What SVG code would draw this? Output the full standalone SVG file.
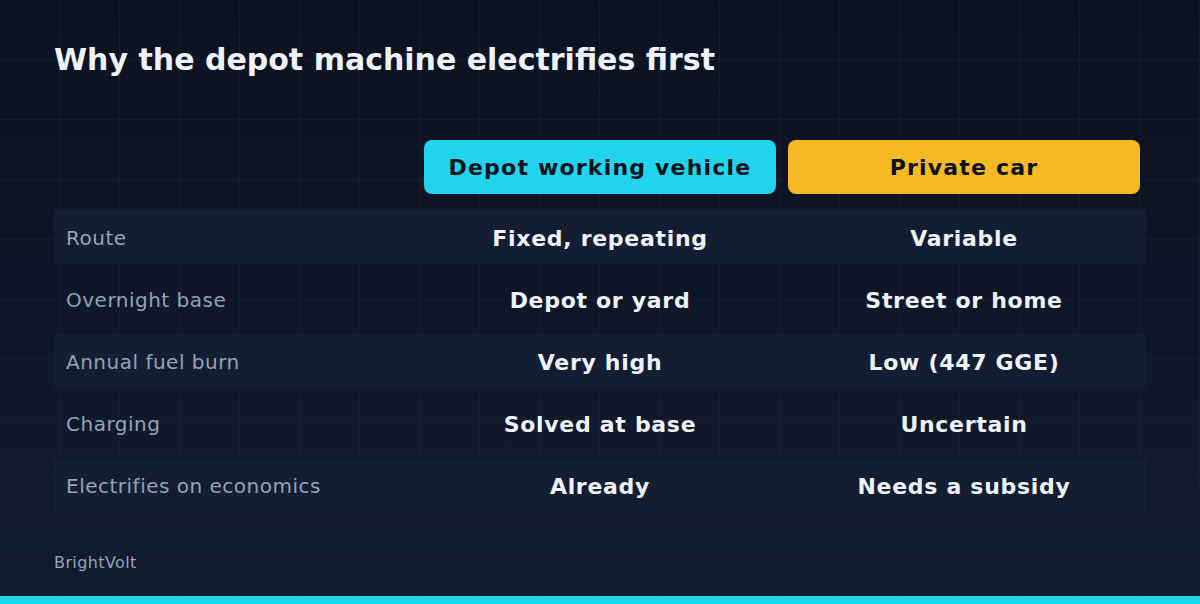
<svg xmlns="http://www.w3.org/2000/svg" width="1200" height="604" viewBox="0 0 1200 604">
<defs>
<linearGradient id="bg" x1="0" y1="0" x2="0" y2="1"><stop offset="0" stop-color="#0b1220"/><stop offset="1" stop-color="#111c2e"/></linearGradient>
<pattern id="grid" width="60" height="60" patternUnits="userSpaceOnUse"><path d="M60 0V60M0 60H60" fill="none" stroke="#16233a" stroke-width="1"/></pattern>
<style>
text{font-family:"DejaVu Sans",sans-serif}
.lab{font-size:20px;fill:#94a3b8;letter-spacing:0.5px}
.val{font-size:22px;font-weight:bold;fill:#eef2fa;text-anchor:middle;letter-spacing:0.7px}
.hd{font-size:22px;font-weight:bold;fill:#0b1220;text-anchor:middle;letter-spacing:1.2px}
.band{fill:#131e33}
</style>
</defs>
<rect width="1200" height="604" fill="url(#bg)"/>
<rect x="-1" y="-1" width="1202" height="606" fill="url(#grid)"/>
<text x="54" y="70" font-size="30" font-weight="bold" fill="#eef2fa">Why the depot machine electrifies first</text>
<g id="head1"><rect x="424" y="140" width="352" height="54" rx="8" fill="#22d3ee"/><text class="hd" x="600" y="175">Depot working vehicle</text></g>
<g id="head2"><rect x="788" y="140" width="352" height="54" rx="8" fill="#f6b924"/><text class="hd" x="964" y="175">Private car</text></g>
<rect class="band" x="54" y="210" width="1092" height="54"/>
<rect class="band" x="54" y="334" width="1092" height="54"/>
<rect class="band" x="54" y="458" width="1092" height="54"/>
<g id="r1"><text class="lab" x="66" y="245">Route</text><text class="val" x="600" y="246">Fixed, repeating</text><text class="val" x="964" y="246">Variable</text></g>
<g id="r2"><text class="lab" x="66" y="307">Overnight base</text><text class="val" x="600" y="308">Depot or yard</text><text class="val" x="964" y="308">Street or home</text></g>
<g id="r3"><text class="lab" x="66" y="369">Annual fuel burn</text><text class="val" x="600" y="370">Very high</text><text class="val" x="964" y="370">Low (447 GGE)</text></g>
<g id="r4"><text class="lab" x="66" y="431">Charging</text><text class="val" x="600" y="432">Solved at base</text><text class="val" x="964" y="432">Uncertain</text></g>
<g id="r5"><text class="lab" x="66" y="493">Electrifies on economics</text><text class="val" x="600" y="494">Already</text><text class="val" x="964" y="494">Needs a subsidy</text></g>
<g id="connectors"/>
<text x="54" y="568" font-size="16" fill="#94a3b8" letter-spacing="0.4">BrightVolt</text>
<rect x="0" y="596" width="1200" height="8" fill="#22d3ee"/>
</svg>
